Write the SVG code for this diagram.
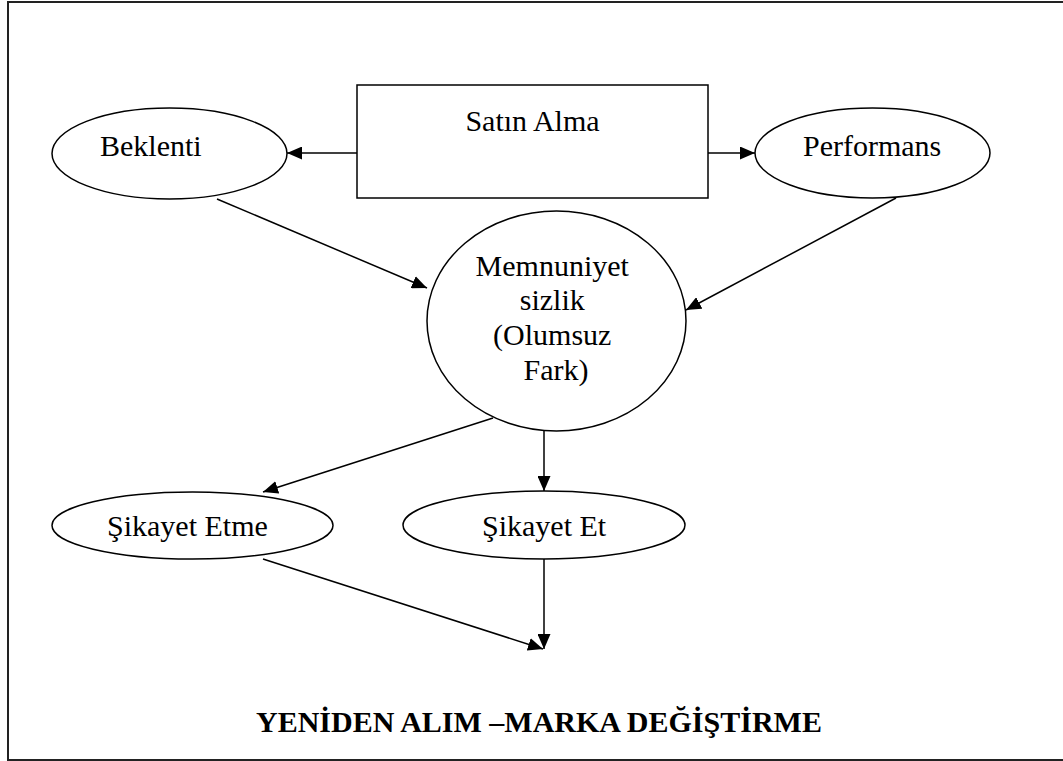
<svg xmlns="http://www.w3.org/2000/svg" width="1063" height="761" viewBox="0 0 1063 761">
<style>
.shape{fill:#fff;stroke:#000;stroke-width:1.5}
.lbl{font-family:"Liberation Serif","Times New Roman",serif;font-size:30px;fill:#000}
.title{font-family:"Liberation Serif","Times New Roman",serif;font-size:30px;font-weight:bold;fill:#000}
.edge{stroke:#000;stroke-width:1.5;fill:none;marker-end:url(#ah)}
</style>
<defs>
<marker id="ah" viewBox="0 0 15 13" refX="15" refY="6.5" markerWidth="15" markerHeight="13" markerUnits="userSpaceOnUse" orient="auto">
<path d="M0,0 L15,6.5 L0,13 Z" fill="#000"/>
</marker>
</defs>
<rect x="8" y="2" width="1060" height="758" fill="#fff" stroke="#222" stroke-width="2"/>
<g id="satin-alma">
<rect class="shape" x="357" y="85" width="351" height="113"/>
<text class="lbl" x="532.5" y="131" text-anchor="middle">Satın Alma</text>
</g>
<g id="beklenti">
<ellipse class="shape" cx="169.5" cy="153.5" rx="117.5" ry="45.5"/>
<text class="lbl" x="100" y="156">Beklenti</text>
</g>
<g id="performans">
<ellipse class="shape" cx="872.5" cy="153" rx="117.5" ry="45"/>
<text class="lbl" x="803" y="156">Performans</text>
</g>
<g id="memnuniyetsizlik">
<ellipse class="shape" cx="556.5" cy="321" rx="129.5" ry="110"/>
<text class="lbl" text-anchor="middle">
<tspan x="556" y="276">Memnuniyet</tspan>
<tspan x="556" y="310">sizlik</tspan>
<tspan x="556" y="345">(Olumsuz</tspan>
<tspan x="556" y="380">Fark)</tspan>
</text>
</g>
<g id="sikayet-etme">
<ellipse class="shape" cx="192.5" cy="525.5" rx="140.5" ry="33.5"/>
<text class="lbl" x="107" y="536">Şikayet Etme</text>
</g>
<g id="sikayet-et">
<ellipse class="shape" cx="544" cy="525" rx="141" ry="34"/>
<text class="lbl" x="482" y="536">Şikayet Et</text>
</g>
<g id="title">
<text class="title" x="256" y="732">YENİDEN ALIM –MARKA DEĞİŞTİRME</text>
</g>
<g id="connectors">
<line class="edge" x1="357" y1="153" x2="287" y2="153"/>
<line class="edge" x1="708" y1="153" x2="755" y2="153"/>
<line class="edge" x1="217" y1="199" x2="427" y2="288"/>
<line class="edge" x1="896" y1="198" x2="686" y2="310"/>
<line class="edge" x1="493" y1="418" x2="263" y2="492"/>
<line class="edge" x1="544" y1="431" x2="544" y2="491"/>
<line class="edge" x1="263" y1="559" x2="543" y2="649"/>
<line class="edge" x1="544" y1="559" x2="544" y2="649"/>
</g>
</svg>
